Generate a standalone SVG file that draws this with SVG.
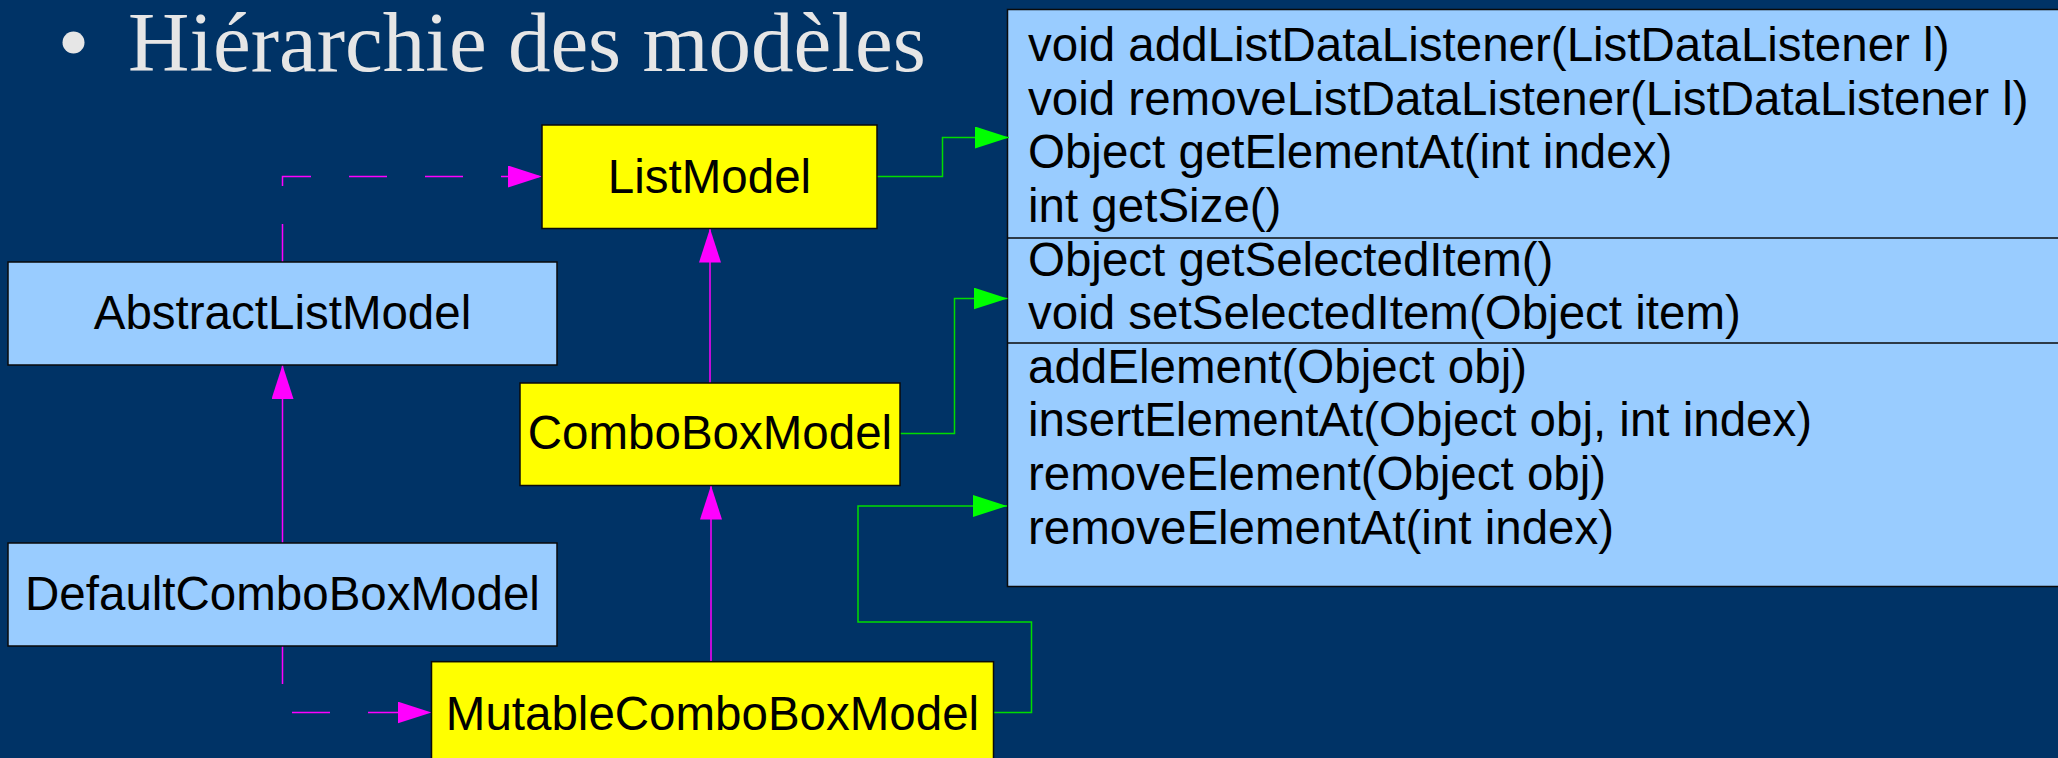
<svg xmlns="http://www.w3.org/2000/svg" width="2058" height="758" viewBox="0 0 2058 758">
  <style>
    .box { stroke: #0a0a0a; stroke-width: 1.5; }
    .yellow { fill: #ffff00; }
    .blue { fill: #99ccff; }
    .label { font-family: "Liberation Sans", Arial, sans-serif; font-size: 47.5px; fill: #000000; }
    .mag { fill: none; stroke: #ff00ff; stroke-width: 1.5; }
    .dash { stroke-dasharray: 38 38; }
    .grn { fill: none; stroke: #00dd00; stroke-width: 1.5; }
    .title { font-family: "Liberation Serif", "Times New Roman", serif; font-size: 85px; fill: #e6e6e6; }
  </style>
  <defs>
    <marker id="arrMag" markerUnits="userSpaceOnUse" markerWidth="34" markerHeight="22" refX="34" refY="11" orient="auto" viewBox="0 0 34 22">
      <path d="M0,0 L34,11 L0,22 Z" fill="#ff00ff"/>
    </marker>
    <marker id="arrGrn" markerUnits="userSpaceOnUse" markerWidth="34" markerHeight="22" refX="34" refY="11" orient="auto" viewBox="0 0 34 22">
      <path d="M0,0 L34,11 L0,22 Z" fill="#00ff00"/>
    </marker>
  </defs>
  <rect x="0" y="0" width="2058" height="758" fill="#003366"/>

  <g id="title">
    <circle cx="73.5" cy="42.5" r="11" fill="#e6e6e6"/>
    <text class="title" x="128" y="71">Hiérarchie des modèles</text>
  </g>

  <g id="methods">
    <rect class="box blue" x="1007.5" y="9.5" width="1070" height="577"/>
    <line x1="1007.5" y1="238" x2="2070" y2="238" stroke="#0a0a0a" stroke-width="1.5"/>
    <line x1="1007.5" y1="343" x2="2070" y2="343" stroke="#0a0a0a" stroke-width="1.5"/>
    <text class="label" x="1028" y="61">void addListDataListener(ListDataListener l)</text>
    <text class="label" x="1028" y="115">void removeListDataListener(ListDataListener l)</text>
    <text class="label" x="1028" y="168">Object getElementAt(int index)</text>
    <text class="label" x="1028" y="222">int getSize()</text>
    <text class="label" x="1028" y="275.5">Object getSelectedItem()</text>
    <text class="label" x="1028" y="329">void setSelectedItem(Object item)</text>
    <text class="label" x="1028" y="382.5">addElement(Object obj)</text>
    <text class="label" x="1028" y="436">insertElementAt(Object obj, int index)</text>
    <text class="label" x="1028" y="490">removeElement(Object obj)</text>
    <text class="label" x="1028" y="543.5">removeElementAt(int index)</text>
  </g>

  <g id="connectors">
    <path class="mag dash" d="M282.5,262 V176.5 H542" marker-end="url(#arrMag)"/>
    <path class="mag" d="M710,383 V228.5" marker-end="url(#arrMag)"/>
    <path class="mag" d="M711,662 V485.5" marker-end="url(#arrMag)"/>
    <path class="mag" d="M282.5,543 V365" marker-end="url(#arrMag)"/>
    <path class="mag dash" d="M282.5,646 V712.5 H431.5" marker-end="url(#arrMag)"/>
    <path class="grn" d="M877,176.5 H942.5 V137.5 H1009" marker-end="url(#arrGrn)"/>
    <path class="grn" d="M900,433.5 H954.5 V298.5 H1007.5" marker-end="url(#arrGrn)"/>
    <path class="grn" d="M993.5,712.5 H1031.5 V622 H858 V506 H1007" marker-end="url(#arrGrn)"/>
  </g>

  <g id="ListModel">
    <rect class="box yellow" x="542" y="125" width="335" height="103.5"/>
    <text class="label" x="709.5" y="193" text-anchor="middle">ListModel</text>
  </g>
  <g id="AbstractListModel">
    <rect class="box blue" x="8" y="262" width="549" height="103"/>
    <text class="label" x="282.5" y="328.5" text-anchor="middle">AbstractListModel</text>
  </g>
  <g id="ComboBoxModel">
    <rect class="box yellow" x="520" y="383" width="380" height="102.5"/>
    <text class="label" x="710" y="449" text-anchor="middle">ComboBoxModel</text>
  </g>
  <g id="DefaultComboBoxModel">
    <rect class="box blue" x="8" y="543" width="549" height="103"/>
    <text class="label" x="282.5" y="610" text-anchor="middle">DefaultComboBoxModel</text>
  </g>
  <g id="MutableComboBoxModel">
    <rect class="box yellow" x="431.5" y="661.7" width="562" height="140"/>
    <text class="label" x="712.5" y="730" text-anchor="middle">MutableComboBoxModel</text>
  </g>
</svg>
